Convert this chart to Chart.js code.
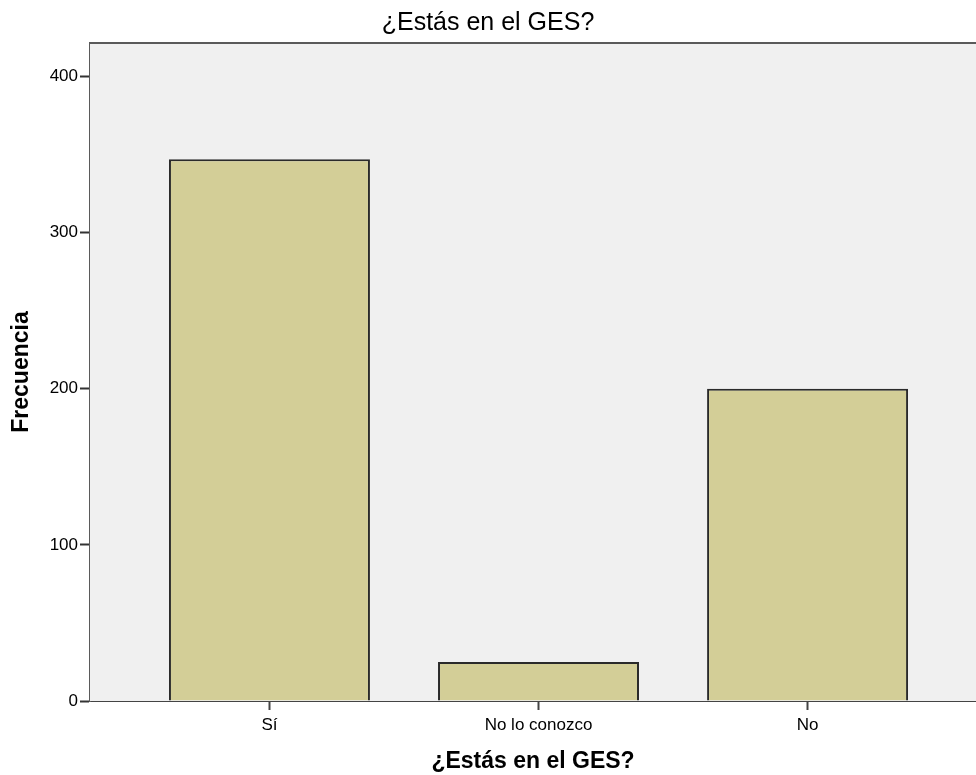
<!DOCTYPE html>
<html>
<head>
<meta charset="utf-8">
<title>¿Estás en el GES?</title>
<script src="https://cdn.jsdelivr.net/npm/chart.js@4/dist/chart.umd.min.js"></script>
<style>
  html, body { margin: 0; padding: 0; background: #fff; overflow: hidden; }
  #wrap { width: 976px; height: 775px; }
</style>
</head>
<body>
<div id="wrap"><canvas id="gesChart" width="976" height="775"></canvas></div>
<script>
/* ── DATA ──────────────────────────────────────────────────── */
const categories = ['Sí', 'No lo conozco', 'No'];
const frecuencia = [347, 25, 200];
const yTicks     = [0, 100, 200, 300, 400];

const FONT = "'Liberation Sans', Arial, sans-serif";

/* ── PLOT FRAME (grey panel + top border) ──────────────────── */
const plotFrame = {
  id: 'plotFrame',
  beforeDatasetsDraw(chart) {
    const { ctx, chartArea: a } = chart;
    ctx.save();
    ctx.fillStyle = '#f0f0f0';
    ctx.fillRect(a.left, a.top, a.right - a.left, a.bottom - a.top);
    ctx.restore();
  },
  afterDraw(chart) {
    const { ctx, chartArea: a } = chart;
    ctx.save();
    ctx.strokeStyle = '#5a5a5a';
    ctx.lineWidth = 2;
    ctx.beginPath();
    ctx.moveTo(a.left - 1, a.top);
    ctx.lineTo(a.right, a.top);
    ctx.stroke();
    ctx.restore();
  }
};

new Chart(document.getElementById('gesChart'), {
  type: 'bar',
  data: {
    datasets: [{
      label: 'Frecuencia',
      data: categories.map((c, i) => ({ x: i, y: frecuencia[i] })),
      backgroundColor: '#d3ce97',
      borderColor: '#2a2a2a',
      borderWidth: 2,
      categoryPercentage: 1,
      barPercentage: 0.747
    }]
  },
  options: {
    responsive: false,
    animation: false,
    layout: { padding: 0 },
    plugins: {
      legend: { display: false },
      tooltip: { enabled: false },
      title: {
        display: true,
        text: '¿Estás en el GES?',
        color: '#000',
        font: { family: FONT, size: 25, weight: 'normal' },
        padding: { top: 8, bottom: 5 }
      }
    },
    scales: {
      x: {
        type: 'linear',
        offset: false,
        min: -0.667,
        max: 2.626,
        afterFit: s => { s.height = 74; },
        afterBuildTicks: s => { s.ticks = categories.map((c, i) => ({ value: i })); },
        grid: { offset: false, drawOnChartArea: false, drawTicks: true, tickLength: 9, color: '#444', tickWidth: 2 },
        border: { color: '#444', width: 2 },
        ticks: {
          color: '#000',
          padding: 5,
          font: { family: FONT, size: 17 },
          callback: v => categories[v]
        },
        title: {
          display: true,
          text: '¿Estás en el GES?',
          color: '#000',
          font: { family: FONT, size: 23, weight: 'bold' },
          padding: { top: 0, bottom: 0 }
        }
      },
      y: {
        min: 0,
        max: 421.5,
        afterFit: s => { s.width = 90; },
        afterBuildTicks: s => { s.ticks = yTicks.map(v => ({ value: v })); },
        grid: { drawOnChartArea: false, drawTicks: true, tickLength: 10, color: '#333', tickWidth: 2 },
        border: { color: '#5a5a5a', width: 2 },
        ticks: {
          color: '#000',
          padding: 2,
          font: { family: FONT, size: 17 }
        },
        title: {
          display: true,
          text: 'Frecuencia',
          color: '#000',
          font: { family: FONT, size: 23, weight: 'bold' },
          padding: { top: 8, bottom: 8 }
        }
      }
    }
  },
  plugins: [plotFrame]
});
</script>
</body>
</html>
